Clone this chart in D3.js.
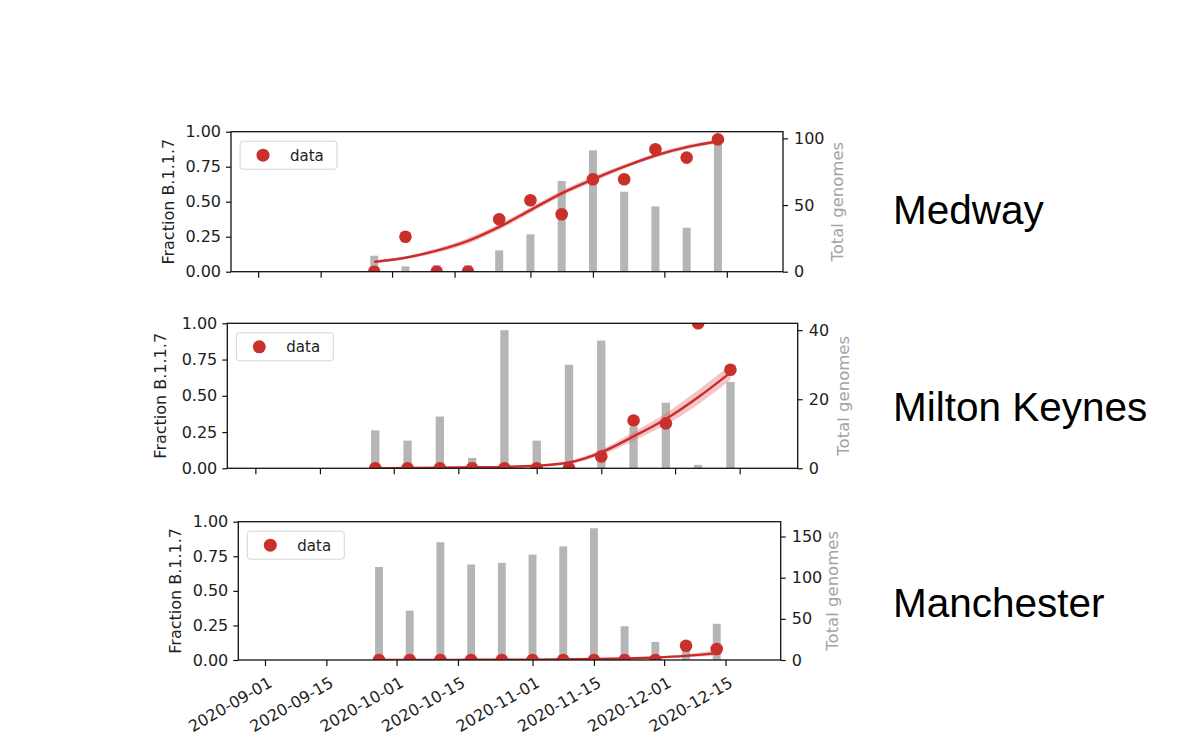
<!DOCTYPE html>
<html><head><meta charset="utf-8">
<script src="https://cdn.jsdelivr.net/npm/d3@7"></script>
<style>body{margin:0;background:#fff} svg{display:block}</style>
</head><body>
<script>
// ---------- data ----------
const weeks = ["2020-09-27","2020-10-04","2020-10-11","2020-10-18","2020-10-25","2020-11-01",
               "2020-11-08","2020-11-15","2020-11-22","2020-11-29","2020-12-06","2020-12-13"];
const xTickLabels = ["2020-09-01","2020-09-15","2020-10-01","2020-10-15","2020-11-01","2020-11-15","2020-12-01","2020-12-15"];
const xDomain = ["2020-08-25T22:00","2020-12-27T14:00"];
const regions = ["Medway","Milton Keynes","Manchester"];
const fractionTicks = [0, 0.25, 0.5, 0.75, 1.0];

const medwayGenomes  = [12, 4, 5, 5, 16, 28, 68, 91, 60, 49, 33, 100];
const medwayFraction = [0, 0.25, 0, 0, 0.375, 0.51, 0.41, 0.66, 0.66, 0.875, 0.815, 0.945];
const medwayFit      = [0.07, 0.10, 0.15, 0.22, 0.32, 0.44, 0.56, 0.66, 0.75, 0.83, 0.89, 0.93];
const medwayFitLow   = [0.06, 0.09, 0.135, 0.20, 0.30, 0.42, 0.54, 0.64, 0.735, 0.815, 0.875, 0.915];
const medwayFitHigh  = [0.08, 0.11, 0.165, 0.24, 0.34, 0.46, 0.58, 0.68, 0.765, 0.845, 0.905, 0.945];
const medwayGenomeTicks = [0, 50, 100];

const miltonGenomes  = [11, 8, 15, 3, 40, 8, 30, 37, 12, 19, 1, 25];
const miltonFraction = [0, 0, 0, 0, 0, 0, 0, 0.081, 0.33, 0.31, 1.0, 0.68];
const miltonFit      = [0.001, 0.002, 0.004, 0.007, 0.01, 0.018, 0.04, 0.11, 0.22, 0.34, 0.49, 0.66];
const miltonFitLow   = [0.0, 0.001, 0.002, 0.004, 0.007, 0.012, 0.03, 0.09, 0.19, 0.30, 0.44, 0.61];
const miltonFitHigh  = [0.002, 0.003, 0.006, 0.01, 0.014, 0.025, 0.05, 0.13, 0.25, 0.38, 0.54, 0.71];
const miltonGenomeTicks = [0, 20, 40];

const manchesterGenomes  = [113, 60, 143, 116, 118, 128, 138, 160, 41, 22, 20, 44];
const manchesterFraction = [0, 0, 0, 0, 0, 0, 0, 0, 0, 0, 0.103, 0.08];
const manchesterFit      = [0.0005, 0.0008, 0.001, 0.0015, 0.002, 0.003, 0.005, 0.007, 0.011, 0.018, 0.03, 0.05];
const manchesterFitLow   = [0.0, 0.0, 0.0005, 0.001, 0.0015, 0.002, 0.003, 0.005, 0.008, 0.012, 0.02, 0.03];
const manchesterFitHigh  = [0.001, 0.0015, 0.002, 0.0025, 0.003, 0.004, 0.007, 0.01, 0.015, 0.025, 0.042, 0.072];
const manchesterGenomeTicks = [0, 50, 100, 150];

// ---------- layout ----------
const W = 1200, H = 755;
const parse = d3.utcParse("%Y-%m-%d");
const parseT = d3.utcParse("%Y-%m-%dT%H:%M");
const DAY = 86400000;
const RED = "#c9302c";
const TICKFONT = "'DejaVu Sans', sans-serif";

const panels = [
  {name: regions[0], g: medwayGenomes, f: medwayFraction, fit: medwayFit, lo: medwayFitLow, hi: medwayFitHigh, gt: medwayGenomeTicks,
   box: {l: 231, r: 783, t: 131.7, b: 271.7}, ylabX: 174, tgX: 843, nameY: 224, xLabels: false},
  {name: regions[1], g: miltonGenomes, f: miltonFraction, fit: miltonFit, lo: miltonFitLow, hi: miltonFitHigh, gt: miltonGenomeTicks,
   box: {l: 227.3, r: 797.7, t: 323.3, b: 468.3}, ylabX: 166, tgX: 849, nameY: 421, xLabels: false},
  {name: regions[2], g: manchesterGenomes, f: manchesterFraction, fit: manchesterFit, lo: manchesterFitLow, hi: manchesterFitHigh, gt: manchesterGenomeTicks,
   box: {l: 238.3, r: 780.7, t: 521.7, b: 660}, ylabX: 181, tgX: 838, nameY: 617, xLabels: true}
];

const svg = d3.select("body").append("svg").attr("width", W).attr("height", H);
svg.append("rect").attr("width", W).attr("height", H).attr("fill", "#fff");

const dates = weeks.map(parse);
const tickDates = xTickLabels.map(parse);

panels.forEach((p, i) => {
  const {l, r, t, b} = p.box;
  const x = d3.scaleUtc().domain(xDomain.map(parseT)).range([l, r]);
  const yF = d3.scaleLinear().domain([0, 1]).range([b, t]);
  const yG = d3.scaleLinear().domain([0, d3.max(p.g) * 1.05]).range([b, t]);

  const clipId = "clip" + i;
  svg.append("clipPath").attr("id", clipId).append("rect")
    .attr("x", l).attr("y", t).attr("width", r - l).attr("height", b - t);

  const g = svg.append("g");
  const plot = g.append("g").attr("clip-path", `url(#${clipId})`);

  // bars (total genomes)
  const halfW = 0.9 * DAY;
  plot.selectAll("rect.bar").data(p.g).join("rect").attr("class", "bar")
    .attr("x", (d, k) => x(new Date(+dates[k] - halfW)))
    .attr("width", (d, k) => x(new Date(+dates[k] + halfW)) - x(new Date(+dates[k] - halfW)))
    .attr("y", d => yG(d))
    .attr("height", d => b - yG(d))
    .attr("fill", "#b5b5b5");

  // confidence band
  const band = d3.area()
    .x((d, k) => x(dates[k]))
    .y0((d, k) => yF(p.lo[k]))
    .y1((d, k) => yF(p.hi[k]))
    .curve(d3.curveMonotoneX);
  plot.append("path").datum(p.fit).attr("d", band)
    .attr("fill", "#e06666").attr("opacity", 0.38);

  // fit line
  const line = d3.line().x((d, k) => x(dates[k])).y(d => yF(d)).curve(d3.curveMonotoneX);
  plot.append("path").datum(p.fit).attr("d", line)
    .attr("fill", "none").attr("stroke", "#cc2b2b").attr("stroke-width", 2.4);

  // data points
  plot.selectAll("circle.pt").data(p.f).join("circle").attr("class", "pt")
    .attr("cx", (d, k) => x(dates[k])).attr("cy", d => yF(d)).attr("r", 6.3)
    .attr("fill", RED);

  // left axis
  const la = g.append("g").attr("transform", `translate(${l},0)`)
    .call(d3.axisLeft(yF).tickValues(fractionTicks).tickFormat(d3.format(".2f")).tickSize(5).tickPadding(5));
  // right axis
  const ra = g.append("g").attr("transform", `translate(${r},0)`)
    .call(d3.axisRight(yG).tickValues(p.gt).tickFormat(d3.format("d")).tickSize(5).tickPadding(6));
  // bottom axis
  const ba = g.append("g").attr("transform", `translate(0,${b})`)
    .call(d3.axisBottom(x).tickValues(tickDates).tickSize(6).tickFormat((d, k) => p.xLabels ? xTickLabels[k] : ""));

  [la, ra, ba].forEach(a => {
    a.select(".domain").remove();
    a.selectAll("line").attr("stroke", "#111").attr("stroke-width", 1.2);
    a.selectAll("text").attr("font-family", TICKFONT).attr("font-size", 16).attr("fill", "#1e1e1e");
  });
  if (p.xLabels) {
    ba.selectAll(".tick text")
      .attr("text-anchor", "end")
      .attr("y", 0).attr("dy", "0.72em")
      .attr("transform", "translate(2,16) rotate(-30)");
  }

  // frame
  g.append("rect").attr("x", l).attr("y", t).attr("width", r - l).attr("height", b - t)
    .attr("fill", "none").attr("stroke", "#111").attr("stroke-width", 1.3);

  // axis labels
  g.append("text").attr("transform", `translate(${p.ylabX},${(t + b) / 2}) rotate(-90)`)
    .attr("text-anchor", "middle").attr("font-family", TICKFONT).attr("font-size", 16)
    .attr("fill", "#222").text("Fraction B.1.1.7");
  g.append("text").attr("transform", `translate(${p.tgX},${(t + b) / 2}) rotate(-90)`)
    .attr("text-anchor", "middle").attr("font-family", TICKFONT).attr("font-size", 16.5)
    .attr("fill", "#a3a3a3").text("Total genomes");

  // legend
  const lg = g.append("g").attr("transform", `translate(${l + 9},${t + 9.5})`);
  lg.append("rect").attr("width", 97).attr("height", 28).attr("rx", 3)
    .attr("fill", "#fff").attr("fill-opacity", 0.85).attr("stroke", "#d4d4d4");
  lg.append("circle").attr("cx", 23).attr("cy", 14).attr("r", 6.5).attr("fill", RED);
  lg.append("text").attr("x", 50).attr("y", 19.5).attr("font-family", TICKFONT)
    .attr("font-size", 15).attr("fill", "#222").text("data");

  // region name
  svg.append("text").attr("x", 893).attr("y", p.nameY)
    .attr("font-family", "'Liberation Sans', Arial, sans-serif").attr("font-size", 40.5)
    .attr("fill", "#000").text(p.name);
});
</script>
</body></html>
